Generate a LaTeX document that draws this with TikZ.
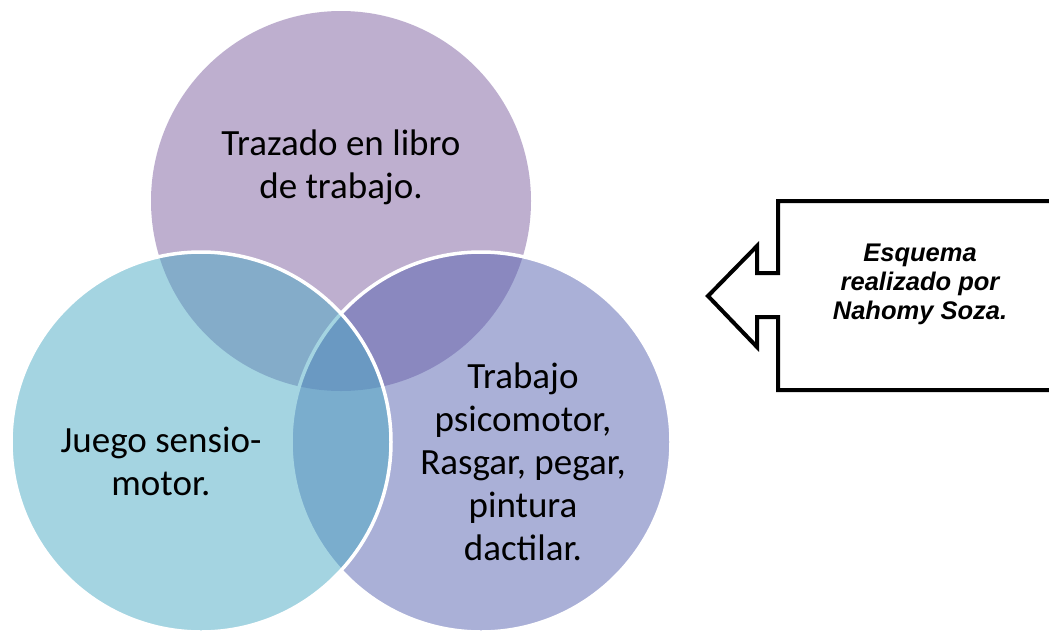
\documentclass[tikz,border=0pt]{standalone}
\usepackage{fontspec}
\setmainfont{Carlito}
\newfontfamily\boxfont{Liberation Sans}
\begin{document}
\begin{tikzpicture}[x=1pt,y=-1pt]
\definecolor{topc}{RGB}{127,97,161}
\definecolor{leftc}{RGB}{75,171,197}
\definecolor{rightc}{RGB}{87,99,177}
\tikzset{
  venn/.style={fill opacity=0.5, draw=white, line width=3.5pt},
  vlabel/.style={align=center, font=\fontsize{37}{43}\selectfont, text=black},
  callout/.style={draw=black, line width=4pt, line join=miter},
  ctext/.style={align=center, font=\boxfont\bfseries\itshape\fontsize{25.5}{29}\selectfont}
}
\useasboundingbox (0,0) rectangle (1049,633);
\clip (0,0) rectangle (1049,633);
\fill[white] (0,0) rectangle (1049,633);
\fill[topc, fill opacity=0.5] (341,201) circle (190);
\filldraw[venn, fill=rightc] (481,442) circle (190);
\filldraw[venn, fill=leftc] (201,442) circle (190);
\node[vlabel] (t) at (341,167) {Trazado en libro\\de trabajo.};
\node[vlabel] (l) at (161,461) {Juego sensio-\\motor.};
\node[vlabel] (r) at (523,462) {Trabajo\\psicomotor,\\Rasgar, pegar,\\pintura\\dactilar.};
\draw[callout] (1070,201) -- (778,201) -- (778,273) -- (757,273) -- (757,246) -- (708,296) -- (757,347) -- (757,317) -- (778,317) -- (778,390) -- (1070,390);
\node[ctext] (c) at (920,284) {Esquema\\realizado por\\Nahomy Soza.};
\end{tikzpicture}
\end{document}
